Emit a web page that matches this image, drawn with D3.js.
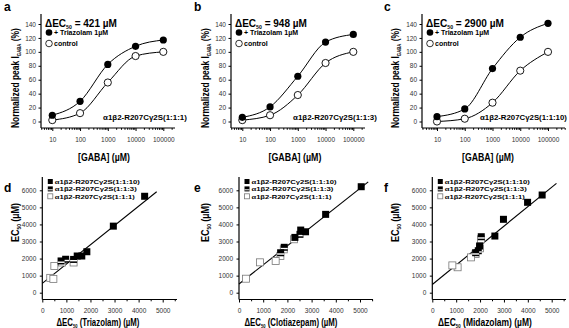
<!DOCTYPE html>
<html>
<head>
<meta charset="utf-8">
<script src="https://cdn.jsdelivr.net/npm/d3@7"></script>
<style>
  body { margin: 0; background: #fff; }
  text { font-family: "Liberation Sans", Arial, sans-serif; }
</style>
</head>
<body>
<svg id="fig" width="569" height="328"></svg>
<script>
// ---- concentration-response data (GABA in µM, current in % of control max) ----
const gabaDoses = [10, 100, 1000, 10000, 100000];
const doseTickLabels = ["10", "100", "1000", "10000", "100000"];
const currentTicks = [0, 20, 40, 60, 80, 100, 120, 140];

const triazolamA = [9, 29, 82, 108, 117];
const controlA   = [2, 12, 56, 94, 100];
const triazolamB = [6, 21, 65, 114, 125];
const controlB   = [2, 9, 38, 84, 100];
const triazolamC = [7, 18, 76, 121, 141];
const controlC   = [0, 4, 27, 73, 100];

const panelLetters = ["a", "b", "c", "d", "e", "f"];
const deltaEC50 = ["421", "948", "2900"];
const receptorRatios = ["(1:1:1)", "(1:1:3)", "(1:1:10)"];

// ---- EC50 vs ΔEC50 data (µM): [ΔEC50, EC50] ----
const ec50Ticks = [0, 1000, 2000, 3000, 4000, 5000, 6000];
const deltaTicks = [0, 1000, 2000, 3000, 4000, 5000];

const triazolam110 = [[4250, 5650], [2950, 3900], [1850, 2400], [1640, 2150], [1450, 2150]];
const triazolam13  = [[1300, 1950], [970, 1960], [780, 1860]];
const triazolam11  = [[1300, 1770], [820, 1770], [500, 1570], [330, 870], [460, 810]];

const clotiazepam110 = [[5050, 6210], [3580, 4590], [2750, 3570], [2550, 3670], [2310, 3240]];
const clotiazepam13  = [[2520, 3420], [1870, 2660], [1720, 2340]];
const clotiazepam11  = [[2270, 3130], [1850, 2540], [1710, 2150], [1515, 1860], [870, 1780], [290, 820]];

const midazolam110 = [[4600, 5724], [3990, 5296], [2980, 4300], [2620, 3320], [1980, 2736]];
const midazolam13  = [[2050, 3280], [1925, 2460], [1815, 2343]];
const midazolam11  = [[2040, 3128], [2000, 2600], [1815, 2270], [1620, 2070], [1060, 1490], [840, 1600]];

// linear fits: [intercept, slope, last ΔEC50]
const fitTriazolam   = [550, 1.13, 4750];
const fitClotiazepam = [510, 1.12, 5340];
const fitMidazolam   = [480, 1.14, 5200];

const drugNames = ["Triazolam", "Clotiazepam", "Midazolam"];

const svg = d3.select("#fig");

// Text set in a condensed face: draw at the origin of a group and squeeze it
// horizontally so that it spans width w starting at (x, y), optionally rotated.
function condensedText(parent, x, y, w, size, rotate) {
  const holder = parent.append("g");
  const t = holder.append("text").attr("x", 0).attr("y", 0)
    .attr("font-size", size).attr("font-weight", "bold");
  t.finish = () => {
    const natural = t.node().getComputedTextLength();
    const s = natural > 0 ? w / natural : 1;
    holder.attr("transform", `translate(${x},${y})${rotate ? " rotate(-90)" : ""} scale(${s},1)`);
  };
  return t;
}

// ---------------------------------------------------------------
// Top row: concentration-response curves
// ---------------------------------------------------------------
const topPanels = [
  { letter: panelLetters[0], axisX: 41, x10: 52.3, xMax: 163.3, xEnd: 175, labelX: 15, titleX: 104, labelEnd: 187, titleW: 52,
    treated: triazolamA, control: controlA, delta: deltaEC50[0], ratio: receptorRatios[0], ratioW: 84, headW: 72 },
  { letter: panelLetters[1], axisX: 231, x10: 242.3, xMax: 353.3, xEnd: 365, labelX: 205, titleX: 295, labelEnd: 377, titleW: 53,
    treated: triazolamB, control: controlB, delta: deltaEC50[1], ratio: receptorRatios[1], ratioW: 84, headW: 72 },
  { letter: panelLetters[2], axisX: 422, x10: 437, xMax: 548, xEnd: 565, labelX: 395, titleX: 488, labelEnd: 567, titleW: 52,
    treated: triazolamC, control: controlC, delta: deltaEC50[2], ratio: receptorRatios[2], ratioW: 87, headW: 78 }
];

topPanels.forEach(p => {
  const g = svg.append("g");
  const y = d3.scaleLinear().domain([0, 140]).range([121.5, 24]);
  const x = d3.scaleLog().domain([10, 100000]).range([p.x10, p.xMax]);
  const axisBottomY = 128;

  // y axis
  const yAxis = d3.axisLeft(y).tickValues(currentTicks).tickSize(2.5).tickSizeOuter(0);
  const ya = g.append("g").attr("transform", `translate(${p.axisX},0)`).call(yAxis);
  ya.select(".domain").remove();
  g.append("line").attr("x1", p.axisX).attr("x2", p.axisX).attr("y1", 14).attr("y2", axisBottomY)
    .attr("stroke", "#000").attr("stroke-width", 1.2);
  ya.selectAll("text").attr("font-size", 6.5).attr("fill", "#333").attr("x", -5);

  // x axis (log), majors plus minor decade ticks
  const minors = [];
  [1, 10, 100, 1000, 10000, 100000].forEach(d => {
    for (let k = 2; k <= 9; k++) {
      const v = d * k;
      if (x(v) > p.axisX && x(v) < p.xEnd) minors.push(v);
    }
  });
  const xAxis = d3.axisBottom(x).tickValues(gabaDoses).tickSize(3)
    .tickFormat((d, i) => doseTickLabels[i]);
  const xa = g.append("g").attr("transform", `translate(0,${axisBottomY})`).call(xAxis);
  xa.select(".domain").remove();
  xa.selectAll("text").attr("font-size", 6.5).attr("fill", "#333").attr("dy", "1.2em");
  const xm = g.append("g").attr("transform", `translate(0,${axisBottomY})`)
    .call(d3.axisBottom(x).tickValues(minors).tickSize(1.8).tickFormat(""));
  xm.select(".domain").remove();
  g.append("line").attr("x1", p.axisX).attr("x2", p.xEnd).attr("y1", axisBottomY).attr("y2", axisBottomY)
    .attr("stroke", "#000").attr("stroke-width", 1.2);

  // curves through the points
  const line = d3.line().x((d, i) => x(gabaDoses[i])).y(d => y(d)).curve(d3.curveMonotoneX);
  [p.control, p.treated].forEach(series => {
    g.append("path").attr("d", line(series)).attr("fill", "none").attr("stroke", "#000").attr("stroke-width", 1);
  });
  g.selectAll(".ctrl").data(p.control).join("circle")
    .attr("cx", (d, i) => x(gabaDoses[i])).attr("cy", d => y(d)).attr("r", 3.6)
    .attr("fill", "#fff").attr("stroke", "#000").attr("stroke-width", 0.9);
  g.selectAll(".trt").data(p.treated).join("circle")
    .attr("cx", (d, i) => x(gabaDoses[i])).attr("cy", d => y(d)).attr("r", 3.6)
    .attr("fill", "#000");

  // ΔEC50 heading
  const h = condensedText(g, p.axisX + 4, 26.5, p.headW, 11.5, false);
  h.append("tspan").text("ΔEC");
  h.append("tspan").attr("font-size", 6).attr("dy", 2).text("50");
  h.append("tspan").attr("dy", -2).text(` = ${p.delta} µM`);
  h.finish();

  // legend
  g.append("circle").attr("cx", p.axisX + 8).attr("cy", 32.5).attr("r", 3.3).attr("fill", "#000");
  g.append("text").attr("x", p.axisX + 13).attr("y", 35).attr("font-size", 7).attr("font-weight", "bold")
    .text("+ Triazolam 1µM");
  g.append("circle").attr("cx", p.axisX + 8).attr("cy", 43.5).attr("r", 3.3)
    .attr("fill", "#fff").attr("stroke", "#000").attr("stroke-width", 0.8);
  g.append("text").attr("x", p.axisX + 13).attr("y", 46).attr("font-size", 7).attr("font-weight", "bold")
    .text("control");

  // receptor label
  const rl = condensedText(g, p.labelEnd - p.ratioW, 119.5, p.ratioW, 7.5, false);
  rl.text("α1β2-R207Cγ2S" + p.ratio);
  rl.finish();

  // axis titles
  const xt = condensedText(g, p.titleX - p.titleW / 2, 160.5, p.titleW, 11.5, false);
  xt.text("[GABA] (µM)");
  xt.finish();
  const yt = condensedText(g, p.labelX + 4, 128, 100, 11, true);
  yt.append("tspan").text("Normalized peak I");
  yt.append("tspan").attr("font-size", 5.5).attr("dy", 2).text("GABA");
  yt.append("tspan").attr("dy", -2).text(" (%)");
  yt.finish();

  // panel letter
  g.append("text").attr("x", p.labelX - 11).attr("y", 11).attr("font-size", 12).attr("font-weight", "bold")
    .text(p.letter);
});

// ---------------------------------------------------------------
// Bottom row: EC50 against ΔEC50
// ---------------------------------------------------------------
const bottomPanels = [
  { letter: panelLetters[3], axisX: 42.3, x5000: 162.7, xEnd: 177, labelX: 15, titleX: 98, titleW: 83,
    groups: [triazolam110, triazolam13, triazolam11], fit: fitTriazolam, drug: drugNames[0] },
  { letter: panelLetters[4], axisX: 239, x5000: 360, xEnd: 373, labelX: 205, titleX: 291, titleW: 93,
    groups: [clotiazepam110, clotiazepam13, clotiazepam11], fit: fitClotiazepam, drug: drugNames[1] },
  { letter: panelLetters[5], axisX: 432.3, x5000: 551.7, xEnd: 566, labelX: 395, titleX: 485, titleW: 94,
    groups: [midazolam110, midazolam13, midazolam11], fit: fitMidazolam, drug: drugNames[2] }
];
const legendRatios = [receptorRatios[2], receptorRatios[1], receptorRatios[0]];
const legendWidths = [85, 82, 80];

function drawSquare(sel, kind, cx, cy, s) {
  if (kind === 2) {
    sel.append("rect").attr("x", cx - s / 2).attr("y", cy - s / 2).attr("width", s).attr("height", s)
      .attr("fill", "#fff").attr("stroke", "#777").attr("stroke-width", 0.8);
  } else {
    sel.append("rect").attr("x", cx - s / 2).attr("y", cy - s / 2).attr("width", s).attr("height", s)
      .attr("fill", "#000");
    if (kind === 1) {
      sel.append("rect").attr("x", cx - s / 2).attr("y", cy + s * 0.08).attr("width", s).attr("height", s * 0.2)
        .attr("fill", "#fff");
    }
  }
}

bottomPanels.forEach(p => {
  const g = svg.append("g");
  const y = d3.scaleLinear().domain([0, 6000]).range([292.7, 190.3]);
  const x = d3.scaleLinear().domain([0, 5000]).range([p.axisX, p.x5000]);
  const axisBottomY = 299.5;

  const ya = g.append("g").attr("transform", `translate(${p.axisX},0)`)
    .call(d3.axisLeft(y).tickValues(ec50Ticks).tickSize(2.5).tickSizeOuter(0).tickFormat(d3.format("d")));
  ya.select(".domain").remove();
  ya.selectAll("text").attr("font-size", 6.5).attr("fill", "#333").attr("x", -6);
  g.append("line").attr("x1", p.axisX).attr("x2", p.axisX).attr("y1", 177).attr("y2", axisBottomY)
    .attr("stroke", "#000").attr("stroke-width", 1.2);

  const xa = g.append("g").attr("transform", `translate(0,${axisBottomY})`)
    .call(d3.axisBottom(x).tickValues(deltaTicks).tickSize(3).tickFormat(d3.format("d")));
  xa.select(".domain").remove();
  xa.selectAll("text").attr("font-size", 6.5).attr("fill", "#333").attr("dy", "1.1em");
  const halfTicks = d3.range(500, 5600, 1000).filter(v => x(v) < p.xEnd);
  const xm = g.append("g").attr("transform", `translate(0,${axisBottomY})`)
    .call(d3.axisBottom(x).tickValues(halfTicks).tickSize(1.8).tickFormat(""));
  xm.select(".domain").remove();
  g.append("line").attr("x1", p.axisX).attr("x2", p.xEnd).attr("y1", axisBottomY).attr("y2", axisBottomY)
    .attr("stroke", "#000").attr("stroke-width", 1.2);

  // regression line
  const [b0, b1, xl] = p.fit;
  g.append("line").attr("x1", x(0)).attr("y1", y(b0)).attr("x2", x(xl)).attr("y2", y(b0 + b1 * xl))
    .attr("stroke", "#000").attr("stroke-width", 1.1);

  // markers: open first, then striped, then filled on top
  [2, 1, 0].forEach(k => {
    p.groups[k].forEach(d => drawSquare(g, k, x(d[0]), y(d[1]), 7));
  });

  // legend
  legendRatios.forEach((r, i) => {
    const cy = 181.5 + i * 7.4;
    drawSquare(g, i, p.axisX + 8, cy, 5);
    const lt = condensedText(g, p.axisX + 12.5, cy + 2.3, legendWidths[i], 6.2, false);
    lt.text("α1β2-R207Cγ2S" + r);
    lt.finish();
  });

  // titles
  const xt = condensedText(g, p.titleX - p.titleW / 2, 325.5, p.titleW, 11.5, false);
  xt.append("tspan").text("ΔEC");
  xt.append("tspan").attr("font-size", 6).attr("dy", 2).text("50");
  xt.append("tspan").attr("dy", -2).text(` (${p.drug}) (µM)`);
  xt.finish();
  const yt = condensedText(g, p.labelX + 4, 242, 39, 11.5, true);
  yt.append("tspan").text("EC");
  yt.append("tspan").attr("font-size", 6).attr("dy", 2).text("50");
  yt.append("tspan").attr("dy", -2).text(" (µM)");
  yt.finish();

  g.append("text").attr("x", p.labelX - 11).attr("y", 192).attr("font-size", 12).attr("font-weight", "bold")
    .text(p.letter);
});
</script>
</body>
</html>
